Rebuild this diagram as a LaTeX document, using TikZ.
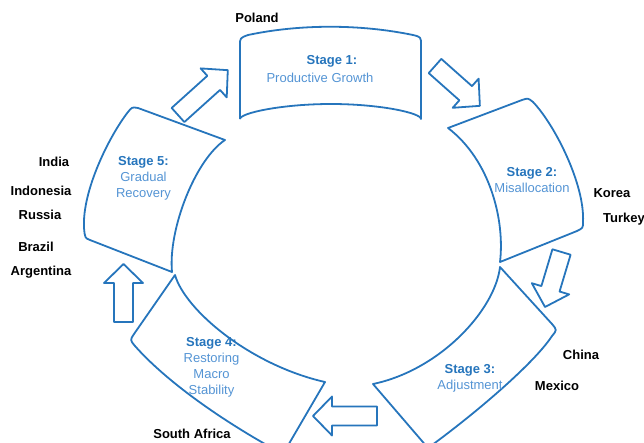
\documentclass[tikz,border=0pt]{standalone}
\usepackage{fontspec}
\setmainfont{Liberation Sans}
\definecolor{edge}{RGB}{38,117,188}
\definecolor{titleblue}{RGB}{38,117,188}
\definecolor{bodyblue}{RGB}{84,148,212}
\begin{document}
\begin{tikzpicture}[x=1pt,y=-1pt,line join=round,
  every node/.style={inner sep=0pt,font=\fontsize{13}{16}\selectfont},
  stagebox/.style={draw=edge,line width=1.8pt},
  flowarrow/.style={draw=edge,line width=1.8pt,fill=white},
  country/.style={font=\fontsize{13}{16}\selectfont\bfseries,text=black},
  stagetext/.style={align=center,text=bodyblue},
  pics/barrow/.style={code={
    \draw[flowarrow] (0,-9.5) -- ({#1-19},-9.5) -- ({#1-19},-19.5) -- (#1,0)
      -- ({#1-19},19.5) -- ({#1-19},9.5) -- (0,9.5) -- cycle;}}]
\useasboundingbox (0,0) rectangle (644,442);

% Stage 1
\draw[stagebox] (240,119) -- (240,45) .. controls (240,38) .. (248,35)
  .. controls (300,24) and (360,24) .. (413,35) .. controls (421,37) .. (421,45)
  -- (421,119) .. controls (421,113) and (380,104) .. (331,104)
  .. controls (282,104) and (240,113) .. (240,119);
% Stage 2
\draw[stagebox] (448,128) -- (522,100) .. controls (528,98) .. (533,102)
  .. controls (555,125) and (585,185) .. (583,222) .. controls (583,228) .. (577,231)
  -- (500,262) .. controls (505,220) and (490,160) .. (448,128) -- cycle;
% Stage 3
\draw[stagebox] (500,267) -- (552,324) .. controls (557,330) .. (552,336)
  .. controls (535,362) and (480,410) .. (428,448)
  -- (373,384) .. controls (440,370) and (495,310) .. (500,267) -- cycle;
% Stage 4
\draw[stagebox] (175,275) -- (134,334) .. controls (130,340) .. (135,346)
  .. controls (165,380) and (220,420) .. (283,454)
  -- (325,382) .. controls (250,365) and (185,310) .. (175,275) -- cycle;
% Stage 5
\draw[stagebox] (138,108) -- (225,140) .. controls (195,160) and (168,230) .. (172,272)
  -- (90,240) .. controls (85,238) .. (84,228)
  .. controls (82,190) and (110,135) .. (128,112) .. controls (132,107) .. (138,108) -- cycle;

% arrows between stages
\pic[rotate=42] at (178,115) {barrow=67};
\pic[rotate=-41.6] at (435,66) {barrow=60};
\pic[rotate=253.3] at (561.5,252) {barrow=57.4};
\pic[rotate=180] at (377,416) {barrow=64};
\pic[rotate=90] at (123.5,322) {barrow=58};

% stage texts
\node[text=titleblue,font=\fontsize{13}{16}\selectfont\bfseries] (s1t) at (332,61) {Stage 1:};
\node[text=bodyblue] (s1b) at (320,78) {Productive Growth};
\node[stagetext] (s2) at (532,180) {\textcolor{titleblue}{\bfseries Stage 2:}\\Misallocation};
\node[stagetext] (s3) at (470,378.5) {\textcolor{titleblue}{\bfseries Stage 3:}\\Adjustment};
\node[stagetext] (s4) at (211.5,367.5) {\textcolor{titleblue}{\bfseries Stage 4:}\\Restoring\\Macro\\Stability};
\node[stagetext] (s5) at (143.5,178) {\textcolor{titleblue}{\bfseries Stage 5:}\\Gradual\\Recovery};

% countries
\node[country] (poland) at (257,18) {Poland};
\node[country] (korea) at (612,193) {Korea};
\node[country,anchor=west] (turkey) at (603,219) {Turkey};
\node[country] (china) at (581,355) {China};
\node[country] (mexico) at (557,386) {Mexico};
\node[country] (safrica) at (192,434) {South Africa};
\node[country] (india) at (54,162) {India};
\node[country] (indonesia) at (41,191) {Indonesia};
\node[country] (russia) at (40,215) {Russia};
\node[country] (brazil) at (36,247) {Brazil};
\node[country] (argentina) at (41,272) {Argentina};
\end{tikzpicture}
\end{document}
